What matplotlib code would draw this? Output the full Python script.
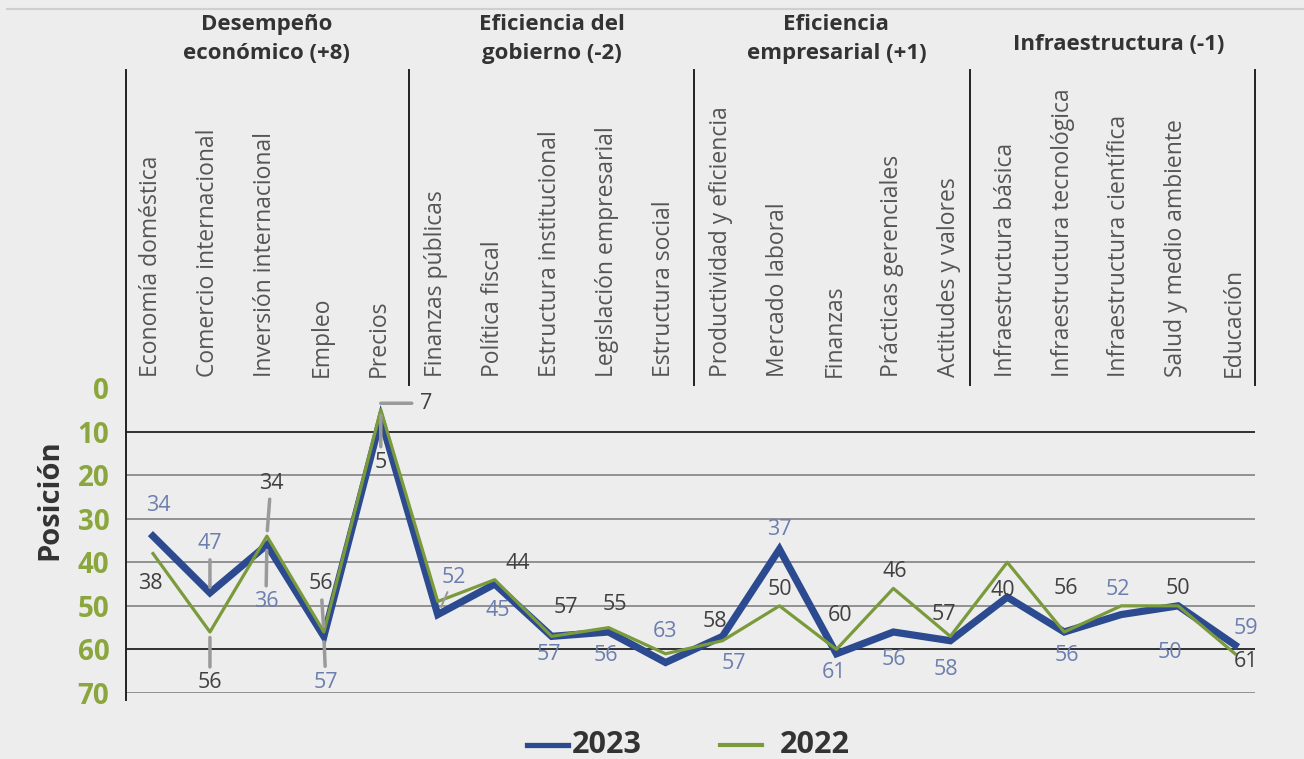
import matplotlib.pyplot as plt
import matplotlib.transforms as mtransforms

plt.rcParams['font.family'] = ['Open Sans', 'DejaVu Sans']

categorias = ["Economía doméstica", "Comercio internacional", "Inversión internacional",
              "Empleo", "Precios", "Finanzas públicas", "Política fiscal",
              "Estructura institucional", "Legislación empresarial", "Estructura social",
              "Productividad y eficiencia", "Mercado laboral", "Finanzas",
              "Prácticas gerenciales", "Actitudes y valores", "Infraestructura básica",
              "Infraestructura tecnológica", "Infraestructura científica",
              "Salud y medio ambiente", "Educación"]
grupos = ["Desempeño\neconómico (+8)", "Eficiencia del\ngobierno (-2)",
          "Eficiencia\nempresarial (+1)", "Infraestructura (-1)"]

pos_2023 = [34, 47, 36, 57, 7, 52, 45, 57, 56, 63, 57, 37, 61, 56, 58, 48, 56, 52, 50, 59]
pos_2022 = [38, 56, 34, 56, 5, 49, 44, 57, 55, 61, 58, 50, 60, 46, 57, 40, 56, 50, 50, 61]
etiq_2023 = ["34", "47", "36", "57", "7", "52", "45", "57", "56", "63", "57", "37", "61",
             "56", "58", None, "56", "52", "50", "59"]
etiq_2022 = ["38", "56", "34", "56", "5", None, "44", "57", "55", None, "58", "50", "60",
             "46", "57", "40", "56", None, "50", "61"]

# label offsets in pixels (dx, dy), and which labels get a leader line
off_2023 = [(5, 31), (0, 49), (-1, -57), (2, -46), (45, 15), (16, 37), (3, -26), (-3, -18),
            (-3, -24), (-1, 31), (11, -27), (0, 20), (-2, -19), (1, -28), (-4, -29), None,
            (3, -24), (-3, 25), (-8, -47), (11, 17)]
off_2022 = [(-3, -30), (0, -51), (4, 53), (-3, 48), (0, -53), None, (23, 16), (14, 29),
            (6, 23), None, (-8, 19), (0, 16), (4, 34), (1, 17), (-6, 22), (-4, -28),
            (2, 43), None, (0, 17), (11, -8)]
lead_2023 = [1, 2, 3, 4, 5]
lead_2022 = [1, 2, 3, 4]

azul = '#2b4a8f'
verde = '#7a9a3c'
bg = '#ededed'

fig = plt.figure(figsize=(13.04, 7.59), dpi=100, facecolor=bg)
W, H = 1304, 759
x0, x1, ytop, ybot = 126, 1255, 388, 693
ax = fig.add_axes([x0 / W, 1 - ybot / H, (x1 - x0) / W, (ybot - ytop) / H])
ax.set_facecolor(bg)

n = len(categorias)
xs = list(range(n))
ax.set_xlim(-0.474, 19.35)
ax.set_ylim(70, 0)

for v in range(10, 80, 10):
    c = '#222222' if v in (10, 60) else '#8a8a8a'
    ax.axhline(v, color=c, lw=1.3, zorder=1)

ax.plot(xs, pos_2023, color=azul, lw=5.2, zorder=3, solid_joinstyle='miter')
ax.plot(xs, pos_2022, color=verde, lw=2.3, zorder=4)

for s, labs, offs, leads, col in [(pos_2023, etiq_2023, off_2023, lead_2023, '#6b7eae'),
                                  (pos_2022, etiq_2022, off_2022, lead_2022, '#404040')]:
    for i, lab in enumerate(labs):
        if lab is None:
            continue
        if i == 4 and s is pos_2023:
            ax.annotate(lab, (i, s[i]), xytext=offs[i], textcoords='offset pixels',
                        ha='center', va='center', fontsize=15.5, color='#404040', zorder=6)
            ax.annotate('', (i, s[i] - 3.5), xytext=(31, 0), textcoords='offset pixels',
                        arrowprops=dict(arrowstyle='-', color='#9a9a9a', lw=2.5,
                                        shrinkA=0, shrinkB=0))
            continue
        ap = None
        if i in leads:
            ap = dict(arrowstyle='-', color='#9a9a9a', lw=2.5, shrinkA=2, shrinkB=4)
        if i == 5 and s is pos_2023:
            ap = dict(arrowstyle='-', color='#9a9a9a', lw=1.5, shrinkA=1, shrinkB=6)
        ax.annotate(lab, (i, s[i]), xytext=offs[i], textcoords='offset pixels',
                    ha='center', va='center', fontsize=15.5, color=col, zorder=6,
                    arrowprops=ap)

ax.set_yticks(range(0, 80, 10))
ax.set_yticklabels([str(v) for v in range(0, 80, 10)], fontsize=20, fontweight='bold',
                   color='#8aa63c')
ax.tick_params(axis='y', length=0, pad=12)
ax.set_xticks([])
for sp in ax.spines.values():
    sp.set_visible(False)

# vertical axis and group separators
for xsep in [-0.474, 4.5, 9.5, 14.35, 19.35]:
    fig.add_artist(plt.Line2D([ax.transData.transform((xsep, 0))[0] / W] * 2,
                              [1 - 70 / H, 1 - (ybot + 7) / H if xsep == -0.474 else 1 - 385 / H],
                              color='#222222', lw=1.4))

trans = mtransforms.blended_transform_factory(ax.transData, fig.transFigure)
for i, cat in enumerate(categorias):
    ax.text(i - 0.03, 1 - 377 / H, cat, transform=trans, rotation=90, ha='center',
            va='bottom', fontsize=16.5, color='#555555')

for g, (gx, gy) in zip(grupos, [(2.0, 39), (7.0, 39), (12.0, 39), (16.95, 45)]):
    ax.text(gx, 1 - gy / H, g, transform=trans, ha='center', va='center',
            fontsize=16, fontweight='bold', color='#333333', linespacing=1.45)

fig.text(50 / W, 1 - 500 / H, 'Posición', rotation=90, ha='center', va='center',
         fontsize=21, fontweight='bold', color='#333333')

fig.add_artist(plt.Line2D([7 / W, 1], [1 - 9 / H] * 2, color='#cfcfcf', lw=1.5))

# legend
fig.add_artist(plt.Line2D([527 / W, 568 / W], [1 - 745 / H] * 2, color=azul, lw=3.8))
fig.text(572 / W, 1 - 745 / H, '2023', ha='left', va='center', fontsize=22,
         fontweight='bold', color='#333333')
fig.add_artist(plt.Line2D([720 / W, 762 / W], [1 - 745 / H] * 2, color=verde, lw=3))
fig.text(780 / W, 1 - 745 / H, '2022', ha='left', va='center', fontsize=22,
         fontweight='bold', color='#333333')

fig.savefig('out.png', dpi=100, facecolor=bg)
